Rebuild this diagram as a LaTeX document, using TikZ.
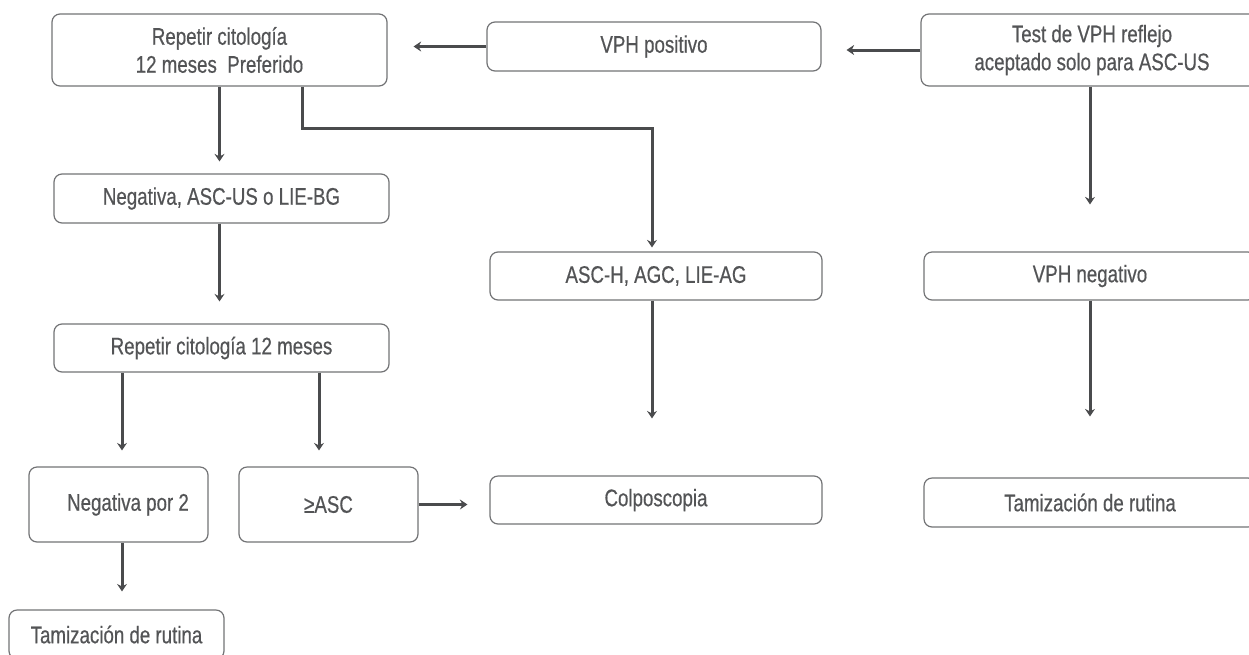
\documentclass[tikz,border=0pt]{standalone}
\usepackage{fontspec}
\setmainfont[FakeStretch=0.78,FakeBold=0.5]{Liberation Sans}
\usetikzlibrary{arrows.meta}
\definecolor{txtgray}{HTML}{535456}
\definecolor{boxgray}{HTML}{727375}
\definecolor{arrgray}{HTML}{4A4B4D}
\begin{document}
\begin{tikzpicture}[x=1pt,y=-1pt,
  box/.style={draw=boxgray, line width=1.2pt, rounded corners=8pt, inner sep=0pt,
    text=txtgray, align=center, font=\fontsize{24}{28}\selectfont},
  arr/.style={draw=arrgray, line width=3pt,
    -{Stealth[length=7.5pt,width=10pt,inset=2.5pt]}}
]
\useasboundingbox (0,0) rectangle (1249,654);
\clip (0,0) rectangle (1249,654);
% nodes (center, width, height)
\node[box, minimum width=335pt, minimum height=72pt] (A) at (219.5,50) {Repetir citología\\12 meses\ \ Preferido};
\node[box, minimum width=334pt, minimum height=49pt] (B) at (654,46.5) {VPH positivo};
\node[box, minimum width=342pt, minimum height=72pt] (C) at (1092,50) {Test de VPH reflejo\\aceptado solo para ASC-US};
\node[box, minimum width=335pt, minimum height=49pt] (F) at (221.5,198.5) {Negativa, ASC-US o LIE-BG};
\node[box, minimum width=335pt, minimum height=48pt] (G) at (221.5,348) {Repetir citología 12 meses};
\node[box, minimum width=332pt, minimum height=48pt] (K) at (656,276) {ASC-H, AGC, LIE-AG};
\node[box, minimum width=332pt, minimum height=48pt] (D) at (1090,276) {VPH negativo};
\node[box, minimum width=179pt, minimum height=75pt] (H) at (118.5,504.5) {\hspace*{19pt}Negativa por 2};
\node[box, minimum width=179pt, minimum height=75pt] (I) at (328.5,504.5) {≥ASC};
\node[box, minimum width=332pt, minimum height=48pt] (J) at (656,500) {Colposcopia};
\node[box, minimum width=332pt, minimum height=49pt] (E) at (1090,502.5) {Tamización de rutina};
\node[box, minimum width=215pt, minimum height=49pt] (L) at (116.5,634.5) {Tamización de rutina};
% helper coordinates
\coordinate (xa) at (302,0);
\coordinate (xk) at (652,0);
\coordinate (ya) at (0,128);
\coordinate (xh) at (122,0);
\coordinate (xi) at (319,0);
\coordinate (xc) at (1090,0);
% connectors
\draw[arr, shorten >=26pt] (B.west) -- (B.west -| A.east);
\draw[arr, shorten >=25pt] (C.west) -- (C.west -| B.east);
\draw[arr, shorten >=47pt] (C.south -| xc) -- (D.north -| xc);
\draw[arr, shorten >=61pt] (D.south -| xc) -- (E.north -| xc);
\draw[arr, shorten >=12pt] (A.south) -- (A.south |- F.north);
\draw[arr, shorten >=22pt] (F.south -| A.south) -- (G.north -| A.south);
\draw[arr, shorten >=16pt] (G.south -| xh) -- (H.north -| xh);
\draw[arr, shorten >=16pt] (G.south -| xi) -- (I.north -| xi);
\draw[arr, shorten >=18pt] (H.south -| xh) -- (L.north -| xh);
\draw[arr, shorten >=22pt] (I.east) -- (I.east -| J.west);
\draw[arr, shorten >=57pt] (K.south -| xk) -- (J.north -| xk);
\draw[arr, shorten >=4pt] (A.south -| xa) -- (xa |- ya) -- (xk |- ya) -- (K.north -| xk);
\end{tikzpicture}
\end{document}
